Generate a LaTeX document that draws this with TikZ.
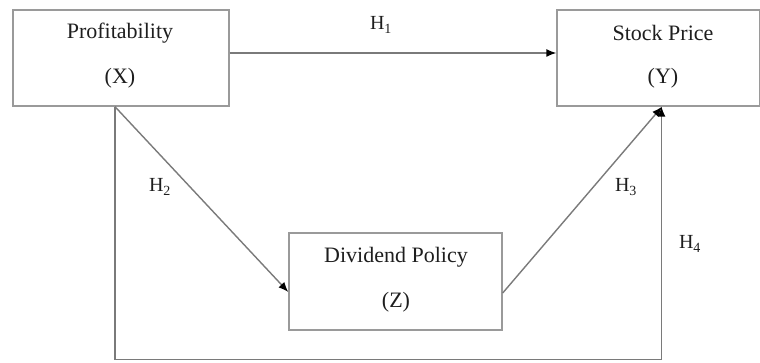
\documentclass[tikz,border=0pt]{standalone}
\usepackage{fontspec}
\setmainfont{Liberation Serif}
\usetikzlibrary{arrows.meta}
\definecolor{linegray}{HTML}{7A7A7A}
\definecolor{boxgray}{HTML}{9A9A9A}
\definecolor{txt}{HTML}{1E1E1E}
\begin{document}
\begin{tikzpicture}[x=1pt,y=-1pt,
  box/.style={draw=boxgray,line width=1.4pt,rectangle,inner sep=0pt},
  lbl/.style={text=txt,font=\fontsize{22}{26}\selectfont,inner sep=0pt},
  hlbl/.style={text=txt,font=\fontsize{20}{24}\selectfont,inner sep=0pt},
  conn/.style={draw=linegray,line width=1.4pt},
  arr/.style={conn,-{Latex[length=10pt,width=8pt,color=black]}}]
\useasboundingbox (0,0) rectangle (760,363);
\node[box,minimum width=216pt,minimum height=96pt] (X) at (121,58) {};
\node[box,minimum width=203pt,minimum height=96pt] (Y) at (658.5,58) {};
\node[box,minimum width=213pt,minimum height=97pt] (Z) at (395.5,281.5) {};
\node[lbl] (xt) at (120,33) {Profitability};
\node[lbl] (xs) at (120,78) {(X)};
\node[lbl] (yt) at (663,33) {Stock Price};
\node[lbl] (ys) at (663,78) {(Y)};
\node[lbl] (zt) at (396,257) {Dividend Policy};
\node[lbl] (zs) at (396,302) {(Z)};
\draw[arr] ([yshift=5pt]X.east) -- ([yshift=5pt]Y.west);
\draw[arr] ([xshift=-6pt]X.south) -- ([yshift=-10.5pt]Z.west);
\draw[arr] ([yshift=-11.5pt]Z.east) -- ([xshift=3.5pt]Y.south);
\draw[arr] ([xshift=-6pt]X.south) -- ++(0,253) -| ([xshift=3pt]Y.south);
\node[hlbl] (h1) at (381,25) {H\textsubscript{1}};
\node[hlbl] (h2) at (160,187) {H\textsubscript{2}};
\node[hlbl] (h3) at (626,187) {H\textsubscript{3}};
\node[hlbl] (h4) at (690,244) {H\textsubscript{4}};
\end{tikzpicture}
\end{document}
